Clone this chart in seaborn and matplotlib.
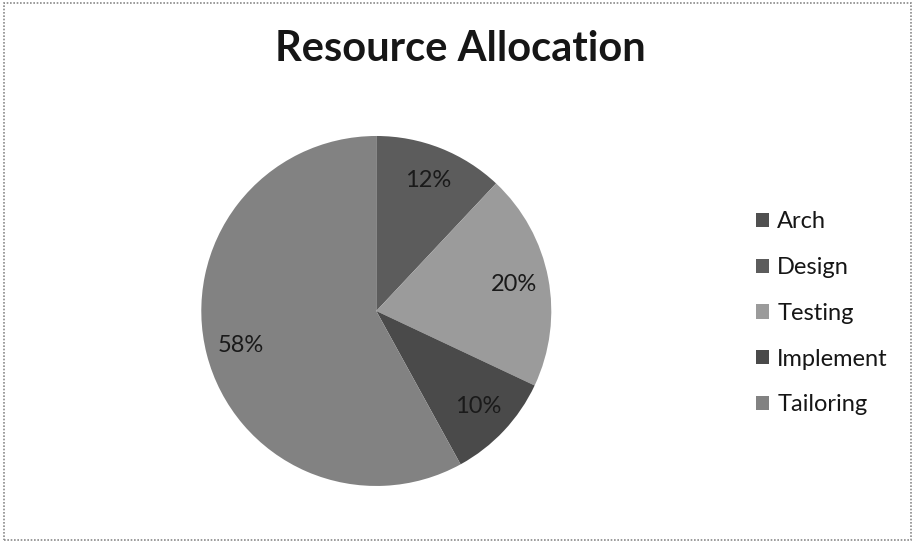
import matplotlib
matplotlib.use("Agg")
import matplotlib.pyplot as plt
from matplotlib.patches import Rectangle, Patch
import seaborn as sns

# Share of project effort by activity
categories = ["Arch", "Design", "Testing", "Implement", "Tailoring"]
shares = [0, 12, 20, 10, 58]
slice_colors = ["#505050", "#5c5c5c", "#9b9b9b", "#4a4a4a", "#828282"]

sns.set_theme(style="white")
plt.rcParams["font.family"] = ["Lato", "DejaVu Sans"]

fig = plt.figure(figsize=(9.15, 5.43), dpi=100)
ax = fig.add_axes([0.220, 0.105, 0.3825, 0.6446])

def fmt(p):
    return f"{p:.0f}%" if p > 0.5 else ""

wedges, texts, autotexts = ax.pie(
    shares,
    colors=slice_colors,
    startangle=90,
    counterclock=False,
    autopct=fmt,
    pctdistance=0.8,
    wedgeprops=dict(linewidth=0),
    textprops=dict(fontsize=17, color="#1a1a1a"),
)
ax.set_aspect("equal")
ax.set_xlim(-1, 1)
ax.set_ylim(-1, 1)

fig.text(0.503, 0.888, "Resource Allocation", ha="center", va="baseline",
         fontsize=30, fontweight="bold", color="#161616")

handles = [Patch(facecolor=c, edgecolor="none") for c in slice_colors]
fig.legend(handles, categories, loc="center left", bbox_to_anchor=(0.803, 0.423),
           frameon=False, fontsize=17, handlelength=0.55, handleheight=0.55,
           handletextpad=0.35, labelspacing=1.05, labelcolor="#161616")

# dotted frame around the chart area
fig.patches.append(Rectangle((0.004, 0.006), 0.992, 0.988, transform=fig.transFigure,
                             fill=False, edgecolor="#8a8a8a", linestyle=(0, (1, 1)),
                             linewidth=1.2))

fig.savefig("out.png", dpi=100)
